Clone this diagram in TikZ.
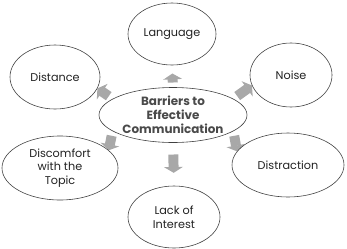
\documentclass[tikz,border=0pt]{standalone}
\usepackage{fontspec}
\setmainfont{Poppins}
\usetikzlibrary{shapes.geometric,arrows.meta,backgrounds}
\definecolor{txtdark}{HTML}{222222}
\definecolor{txtgrey}{HTML}{4A4A4A}
\definecolor{arrowgrey}{HTML}{A8A8A8}
\begin{document}
\begin{tikzpicture}[x=0.03cm, y=-0.03cm,
  barrier/.style={ellipse, draw=black!75, line width=0.5pt, fill=white, inner sep=0pt,
    align=center, text=txtdark, font=\fontsize{9.6}{11.6}\selectfont},
  hub/.style={barrier, text=txtgrey, font=\fontsize{10.2}{12}\selectfont\bfseries},
  blockarrow/.style={arrowgrey, line width=8.5pt, -{Triangle[width=16pt, length=5pt]}}]
  \useasboundingbox (0,0) rectangle (347,248);
  % --- centre ---
  \node[hub, minimum width=4.44cm, minimum height=1.65cm] (centre) at (173,115)
    {Barriers to\\Effective\\Communication};
  % --- barriers round it ---
  \node[barrier, minimum width=2.64cm, minimum height=1.86cm] (lang) at (172,34) {Language};
  \node[barrier, minimum width=2.70cm, minimum height=1.92cm] (dist) at (55,77) {Distance};
  \node[barrier, minimum width=2.46cm, minimum height=1.92cm] (noise) at (291,75) {Noise};
  \node[barrier, minimum width=3.48cm, minimum height=1.92cm] (disc) at (60,168)
    {Discomfort\\with the\\Topic};
  \node[barrier, minimum width=3.36cm, minimum height=1.92cm] (distr) at (288,165) {Distraction};
  \node[barrier, minimum width=2.76cm, minimum height=1.86cm] (lack) at (174,217)
    {Lack of\\Interest};

  % === arrows, tucked behind the ellipses ===
  \begin{scope}[on background layer]
    \draw[blockarrow, shorten <=4pt, shorten >=7pt] (centre.90) -- (lang.-90);
    \draw[blockarrow, shorten <=10pt, shorten >=11pt] (centre.-90) -- (lack.90);
    \draw[blockarrow, shorten <=4pt] (centre.165) -- (dist.-15);
    \draw[blockarrow, shorten <=4pt] (centre.15) -- (noise.195);
    \draw[blockarrow, shorten <=4pt] (centre.195) -- (disc.20);
    \draw[blockarrow, shorten <=4pt] (centre.-15) -- (distr.165);
  \end{scope}
\end{tikzpicture}
\end{document}
